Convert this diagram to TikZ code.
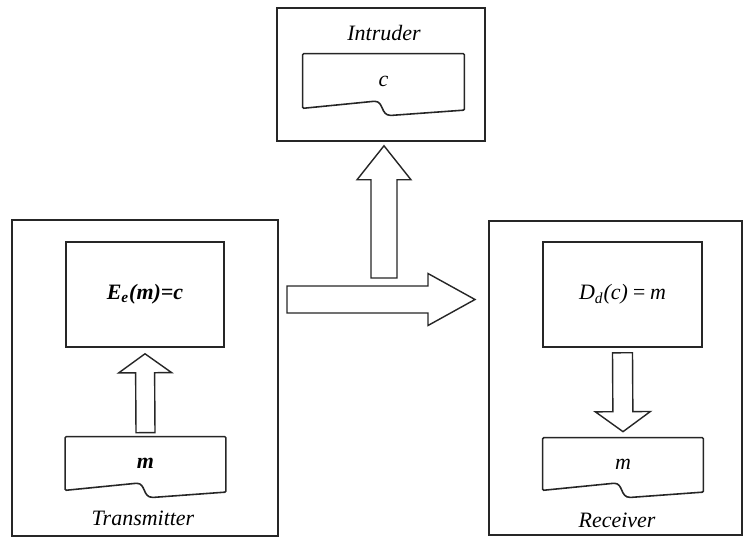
\documentclass[tikz,border=0pt]{standalone}
\usepackage{fontspec}
\setmainfont{Liberation Serif}
\usetikzlibrary{calc,positioning}

% block arrow: start, tip, shaft half-width, head half-width, head length
\newcommand{\fatarrow}[5]{%
  \coordinate (fa-s) at (#1);
  \coordinate (fa-t) at (#2);
  \coordinate (fa-m) at ($(fa-t)!#5!(fa-s)$);
  \draw[block] ($(fa-s)!#3!90:(fa-t)$) -- ($(fa-m)!#3!-90:(fa-s)$) -- ($(fa-m)!#4!-90:(fa-s)$)
    -- (fa-t) -- ($(fa-m)!#4!90:(fa-s)$) -- ($(fa-m)!#3!90:(fa-s)$) -- ($(fa-s)!#3!-90:(fa-t)$) -- cycle;}

% document shape with wavy bottom around a node
\newcommand{\docbody}[1]{%
  \draw[docline] (#1.south west) -- (#1.north west) -- (#1.north east) -- ($(#1.south east)+(0pt,-1pt)$)
    -- ($(#1.south west)!0.55!(#1.south east)+(0pt,-4pt)$)
    .. controls +(-0.22cm,0pt) and +(0.2cm,0pt) .. ($(#1.south west)!0.44!(#1.south east)+(0pt,4pt)$)
    -- cycle;}

\begin{document}
\begin{tikzpicture}[x=0.02cm, y=-0.02cm,
    every node/.style={font=\fontsize{12.5}{15}\selectfont},
    frame/.style={draw=black!85, line width=0.9pt, rectangle, inner sep=0pt},
    func/.style={frame, minimum width=3.17cm, minimum height=2.1cm},
    doc/.style={rectangle, inner sep=0pt, minimum width=3.2cm, minimum height=1.06cm},
    docline/.style={draw=black!85, line width=0.9pt, fill=white, rounded corners=0.6pt},
    block/.style={draw=black!85, line width=0.8pt, fill=white, line join=miter},
    role/.style={font=\fontsize{12.5}{15}\selectfont\itshape}
]
\useasboundingbox (0,0) rectangle (744,538);

% Intruder
\node[frame, minimum width=4.16cm, minimum height=2.66cm] (intruder) at (381,74.5) {};
\node[role] (intrlabel) at (384,33) {Intruder};
\node[doc, minimum width=3.22cm, minimum height=1.08cm] (cdoc) at (383.5,81) {};
\docbody{cdoc}
\node at (cdoc) {\textit{c}};

% Transmitter
\node[frame, minimum width=5.32cm, minimum height=6.32cm] (trans) at (145,378) {};
\node[func] (enc) at (145,294.5) {\textbf{\textit{E\textsubscript{e}(m)=c}}};
\node[doc] (msg1) at (145.5,463.5) {};
\docbody{msg1}
\node at (msg1) {\textbf{\textit{m}}};
\node[role] (translabel) at (143,518) {Transmitter};

% Receiver
\node[frame, minimum width=5.06cm, minimum height=6.28cm] (recv) at (615.5,378) {};
\node[func] (dec) at (622.5,294.5) {\textit{D\textsubscript{d}(c)\,=\,m}};
\node[doc, minimum height=1.04cm] (msg2) at (623,464) {};
\docbody{msg2}
\node at (msg2) {\textit{m}};
\node[role] (recvlabel) at (617,520) {Receiver};

% Arrows
\fatarrow{$(msg1.north)+(0pt,0.08cm)$}{$(enc.south)+(0pt,-0.12cm)$}{0.19cm}{0.53cm}{0.38cm}
\fatarrow{$(dec.south)+(0pt,-0.1cm)$}{$(msg2.north)+(0pt,0.12cm)$}{0.2cm}{0.55cm}{0.4cm}
\coordinate (tail) at (287,299.5);
\coordinate (head) at (475,299.5);
\fatarrow{tail}{head}{0.27cm}{0.52cm}{0.94cm}
\coordinate (ibase) at (384,278);
\fatarrow{ibase}{$(ibase |- intruder.south)+(0pt,-0.08cm)$}{0.26cm}{0.54cm}{0.68cm}

\end{tikzpicture}
\end{document}
